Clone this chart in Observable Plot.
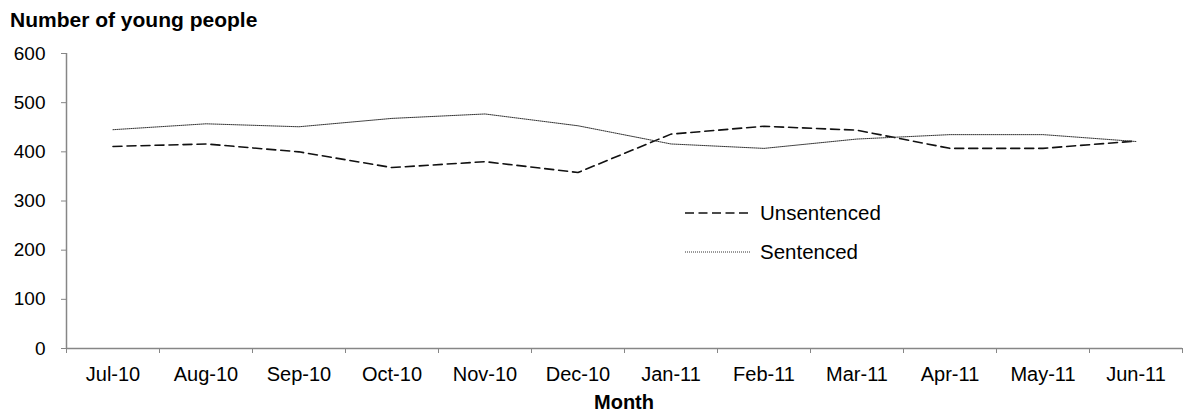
<!DOCTYPE html>
<html>
<head>
<meta charset="utf-8">
<script src="https://cdn.jsdelivr.net/npm/d3@7"></script>
<script src="https://cdn.jsdelivr.net/npm/@observablehq/plot@0.6"></script>
<style>
  html, body { margin: 0; padding: 0; background: #fff; }
  #wrap { position: relative; width: 1183px; height: 414px; font-family: "Liberation Sans", Arial, sans-serif; color: #000; overflow: hidden; }
  #wrap svg.plot { position: absolute; left: 0; top: 0; }
  .abs { position: absolute; white-space: nowrap; line-height: 1; }
  .title { font-weight: bold; font-size: 21px; }
  .legend { font-size: 20.5px; }
</style>
</head>
<body>
<div id="wrap"></div>
<script>
const months = ["Jul-10","Aug-10","Sep-10","Oct-10","Nov-10","Dec-10","Jan-11","Feb-11","Mar-11","Apr-11","May-11","Jun-11"];
const unsentenced = [411, 416, 400, 368, 380, 358, 436, 452, 444, 407, 407, 422];
const sentenced   = [445, 457, 451, 468, 477, 453, 416, 407, 426, 435, 435, 421];
const yTicks = [0, 100, 200, 300, 400, 500, 600];
const seriesNames = ["Unsentenced", "Sentenced"];

const axisGray = "#868686";
const idx = d3.range(months.length);
const xDomain = [-0.5, months.length - 0.5];
const boundaries = d3.range(months.length + 1).map(i => i - 0.5);

const chart = Plot.plot({
  width: 1183,
  height: 414,
  marginLeft: 66,
  marginRight: 1,
  marginTop: 53,
  marginBottom: 66,
  x: {type: "linear", domain: xDomain, axis: null},
  y: {domain: [0, 600], axis: null},
  style: {fontFamily: "'Liberation Sans', Arial, sans-serif", fontSize: "19px", color: "#000", background: "#fff", overflow: "visible"},
  marks: [
    Plot.axisY(yTicks, {tickSize: 5, tickPadding: 16, stroke: axisGray, label: null, fontSize: 19}),
    Plot.axisX(boundaries, {tickSize: 5, tickFormat: () => "", stroke: axisGray, label: null}),
    Plot.axisX(idx, {tickSize: 0, tickPadding: 18, tickFormat: i => months[i], label: null, fontSize: 20}),
    Plot.ruleX([xDomain[0]], {y1: yTicks[0], y2: yTicks[yTicks.length - 1], stroke: axisGray, strokeWidth: 1.5}),
    Plot.ruleY([yTicks[0]], {stroke: axisGray, strokeWidth: 1.5}),
    Plot.lineY(unsentenced, {x: (d, i) => i, y: d => d, stroke: "#111", strokeWidth: 1.6, strokeDasharray: "9,5"}),
    Plot.lineY(sentenced, {x: (d, i) => i, y: d => d, stroke: "#333", strokeWidth: 1, strokeDasharray: "1,1"})
  ]
});
chart.classList.add("plot");
const wrap = document.getElementById("wrap");
wrap.appendChild(chart);

function addDiv(cls, text, left, top) {
  const d = document.createElement("div");
  d.className = "abs " + cls;
  d.textContent = text;
  d.style.left = left + "px";
  d.style.top = top + "px";
  wrap.appendChild(d);
  return d;
}
addDiv("title", "Number of young people", 10, 9);
const m = addDiv("title", "Month", 0, 392);
m.style.fontSize = "20px";
m.style.left = "624px"; m.style.transform = "translateX(-50%)";

// legend
const legendDash = ["9,4.5", "1,1"];
const legendW = [1.5, 1];
seriesNames.forEach((name, k) => {
  const yc = [213, 252][k];
  const svgNS = "http://www.w3.org/2000/svg";
  const s = document.createElementNS(svgNS, "svg");
  s.setAttribute("width", 70); s.setAttribute("height", 6);
  s.style.position = "absolute"; s.style.left = "684px"; s.style.top = (yc - 3) + "px";
  const ln = document.createElementNS(svgNS, "line");
  ln.setAttribute("x1", 1); ln.setAttribute("x2", 67); ln.setAttribute("y1", 3); ln.setAttribute("y2", 3);
  ln.setAttribute("stroke", k === 0 ? "#111" : "#333");
  ln.setAttribute("stroke-width", legendW[k]);
  ln.setAttribute("stroke-dasharray", legendDash[k]);
  s.appendChild(ln);
  wrap.appendChild(s);
  addDiv("legend", name, 760, yc - 10);
});
</script>
</body>
</html>
